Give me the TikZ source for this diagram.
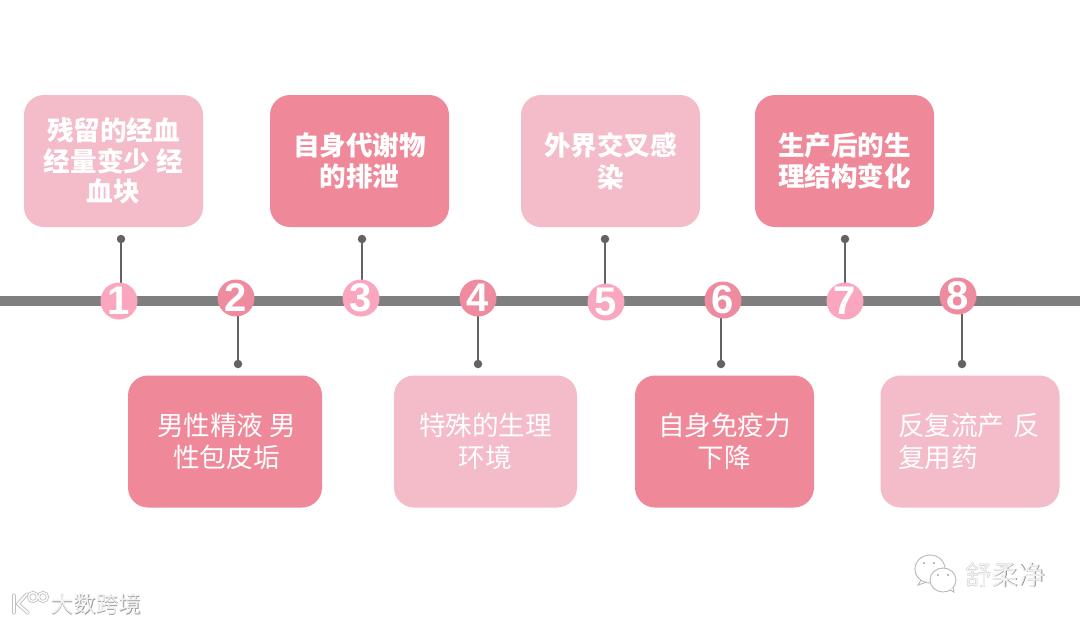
\documentclass[tikz,border=0pt]{standalone}
\usepackage{fontspec}
\setmainfont{Liberation Sans}
\newfontfamily\cjk{Noto Sans CJK SC}
\begin{document}
\begin{tikzpicture}[x=1pt,y=-1pt,
  tbox/.style={rounded corners=20pt,inner sep=0pt,align=center,text=white,anchor=center,
     font=\cjk\fontsize{26.6pt}{31.5pt}\selectfont},
  lightbox/.style={tbox,fill=boxlight},
  darkbox/.style={tbox,fill=boxdark},
  numc/.style={circle,inner sep=0pt,minimum size=37pt,text=white,font=\fontsize{40pt}{40pt}\selectfont\bfseries},
  numlight/.style={numc,fill=numlightc},
  numdark/.style={numc,fill=numdarkc},
  tdot/.style={circle,fill=linedark,inner sep=0pt,minimum size=8.5pt},
  conn/.style={draw=linedark,line width=1.7pt},
  wmshadow/.style={text=black!45,font=\cjk\fontsize{26.6pt}{26.6pt}\selectfont},
  wmtext/.style={text=black!5,font=\cjk\fontsize{26.6pt}{26.6pt}\selectfont},
  wmshadowl/.style={text=black!38,font=\cjk\fontsize{22.5pt}{22.5pt}\selectfont},
  wmtextl/.style={text=black!5,font=\cjk\fontsize{22.5pt}{22.5pt}\selectfont},
]
\definecolor{boxlight}{HTML}{F4BBC9}
\definecolor{boxdark}{HTML}{EF8899}
\definecolor{numlightc}{HTML}{FBA6BF}
\definecolor{numdarkc}{HTML}{EE8B9E}
\definecolor{linedark}{HTML}{636363}
\definecolor{axisc}{HTML}{7F7F7F}
\useasboundingbox (0,0) rectangle (1080,624);
\fill[white] (0,0) rectangle (1080,624);
% axis
\coordinate (axisL) at (0,301);
\coordinate (axisR) at (1080,301);
\coordinate (glintL) at (1011,304.5);
\coordinate (glintR) at (1080,304.5);
\draw[axisc,line width=9.5pt] (axisL) -- (axisR);
\draw[black!50!white,line width=1pt] (glintL) -- (glintR);
% boxes
\node[lightbox,minimum width=179pt,minimum height=132pt] (b1) at (113.5,161) {\textbf{残留的经血}\\[-1pt]\textbf{经量变少 经}\\[-1pt]\textbf{血块}};
\node[darkbox,minimum width=194pt,minimum height=132pt] (b2) at (225,441.5) {\hspace*{3pt}男性精液 男\\\hspace*{3pt}性包皮垢};
\node[darkbox,minimum width=179pt,minimum height=132pt] (b3) at (359.5,161) {\textbf{自身代谢物}\\\textbf{的排泄}};
\node[lightbox,minimum width=183pt,minimum height=132pt] (b4) at (485.5,441.5) {特殊的生理\\环境};
\node[lightbox,minimum width=179pt,minimum height=132pt] (b5) at (610.5,161) {\textbf{外界交叉感}\\\textbf{染}};
\node[darkbox,minimum width=179pt,minimum height=132pt] (b6) at (724.5,441.5) {自身免疫力\\下降};
\node[darkbox,minimum width=179pt,minimum height=132pt] (b7) at (844.5,161) {\textbf{生产后的生}\\\textbf{理结构变化}};
\node[lightbox,minimum width=179pt,minimum height=132pt,text width=144pt,align=left] (b8) at (970,441.5) {反复流产 反\\复用药};
% dots
\node[tdot] (d1) at (121,239) {};
\node[tdot] (d2) at (238,364) {};
\node[tdot] (d3) at (362,239) {};
\node[tdot] (d4) at (478,364) {};
\node[tdot] (d5) at (605,239) {};
\node[tdot] (d6) at (721,364) {};
\node[tdot] (d7) at (845,239) {};
\node[tdot] (d8) at (962,364) {};
% number circles
\coordinate (n1c) at (119,301);
\coordinate (n2c) at (236,298);
\coordinate (n3c) at (361,298);
\coordinate (n4c) at (478,298);
\coordinate (n5c) at (606,302);
\coordinate (n6c) at (723,300);
\coordinate (n7c) at (845,301);
\coordinate (n8c) at (958,296);
\draw[conn] (d1) -- (d1 |- n1c);
\draw[conn] (d2) -- (d2 |- n2c);
\draw[conn] (d3) -- (d3 |- n3c);
\draw[conn] (d4) -- (d4 |- n4c);
\draw[conn] (d5) -- (d5 |- n5c);
\draw[conn] (d6) -- (d6 |- n6c);
\draw[conn] (d7) -- (d7 |- n7c);
\draw[conn] (d8) -- (d8 |- n8c);
\node[numlight] (n1) at (n1c) {1};
\node[numdark] (n2) at (n2c) {2};
\node[numlight] (n3) at (n3c) {3};
\node[numdark] (n4) at (n4c) {4};
\node[numlight] (n5) at (n5c) {5};
\node[numdark] (n6) at (n6c) {6};
\node[numlight] (n7) at (n7c) {7};
\node[numdark] (n8) at (n8c) {8};
% watermark right
\begin{scope}[draw=black!28,line width=0.9pt,fill=white]
\draw (930,569) ellipse (15pt and 14pt);
\draw (921,580) -- (918,585) -- (927,582);
\draw[fill=white] (943,580) ellipse (13pt and 12pt);
\draw[fill=white] (950,590) -- (954,592) -- (953,587);
\fill[black!35] (924,563) circle (1.1pt) (934,563) circle (1.1pt) (938,575) circle (1.1pt) (948,575) circle (1.1pt);
\end{scope}
\node[wmshadow] (wmr0) at (1005.7,575.7) {舒柔净};
\node[wmtext] (wmr) at (1005,575) {舒柔净};
% watermark left
\begin{scope}[line cap=round]
\draw[black!25,line width=3.6pt] (14,595) -- (14,613) (27,594) -- (18,604) -- (28,613);
\draw[black!25,line width=3pt] (33,597) circle (4.5pt) (43,597) circle (4.5pt);
\draw[white,line width=1.8pt] (14,595) -- (14,613) (27,594) -- (18,604) -- (28,613);
\draw[white,line width=1.4pt] (33,597) circle (4.5pt) (43,597) circle (4.5pt);
\end{scope}
\node[wmshadowl] (wml0) at (96.7,604.7) {大数跨境};
\node[wmtextl] (wml) at (96,604) {大数跨境};
\end{tikzpicture}
\end{document}
